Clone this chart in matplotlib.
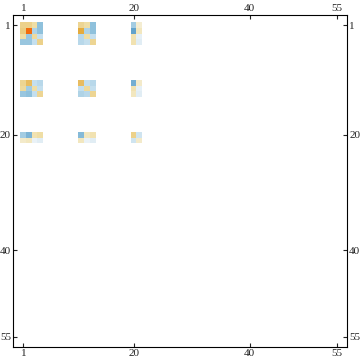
import matplotlib
matplotlib.use('Agg')
import matplotlib.pyplot as plt
import numpy as np
from matplotlib.colors import LinearSegmentedColormap

n = 55
# rows/cols that carry nonzero entries
idx = [1, 2, 3, 4, 11, 12, 13, 20, 21]
# values (blue = negative, orange = positive)
vals = [
    [0.45, 0.45, 0.30, -0.50, 0.40, 0.30, -0.50, -0.40, 0.12],
    [0.50, 1.00, -0.35, -0.50, 0.70, -0.35, -0.50, -0.75, 0.20],
    [0.30, -0.45, 0.35, -0.25, -0.30, 0.30, -0.25, 0.25, -0.10],
    [-0.45, -0.45, -0.25, 0.45, -0.30, -0.25, 0.40, 0.25, -0.12],
    [0.40, 0.60, -0.25, -0.30, 0.60, -0.25, -0.30, -0.65, 0.15],
    [0.35, -0.40, 0.30, -0.25, -0.25, 0.35, -0.25, 0.25, -0.10],
    [-0.45, -0.50, -0.25, 0.40, -0.35, -0.30, 0.40, 0.20, -0.12],
    [-0.40, -0.60, 0.25, 0.30, -0.55, 0.20, 0.25, 0.45, -0.20],
    [0.15, 0.20, -0.08, -0.12, 0.20, -0.08, -0.12, -0.20, 0.15],
]
ticks = [1, 20, 40, 55]

M = np.zeros((n, n))
for i, r in enumerate(idx):
    for j, c in enumerate(idx):
        M[r - 1, c - 1] = vals[i][j]
M = np.ma.masked_equal(M, 0)  # zero entries stay white

cmap = LinearSegmentedColormap.from_list('mma', [
    (0.0, '#4f93c2'),
    (0.125, '#62a3cc'),
    (0.25, '#8fc1dc'),
    (0.375, '#c4dfee'),
    (0.45, '#e6f0f6'),
    (0.5, '#ffffff'),
    (0.55, '#f5efd8'),
    (0.65, '#f0dfa6'),
    (0.75, '#ebcd82'),
    (0.85, '#e5ac3e'),
    (1.0, '#f26c0d'),
])
cmap.set_bad('white')

fig = plt.figure(figsize=(3.6, 3.63), dpi=100)
ax = fig.add_axes([13 / 360, (363 - 347) / 363, 334 / 360, 332 / 363])
ax.imshow(M, cmap=cmap, vmin=-1, vmax=1, interpolation='nearest',
          extent=(0.5, n + 0.5, n + 0.5, 0.5), aspect='auto')

pad = 1.28
ax.set_xlim(0.5 - pad, n + 0.5 + pad)
ax.set_ylim(n + 0.5 + pad, 0.5 - pad)

ax.set_xticks(ticks)
ax.set_yticks(ticks)
ax.set_xticklabels([str(t) for t in ticks], family='Liberation Serif', fontsize=8)
ax.set_yticklabels([str(t) for t in ticks], family='Liberation Serif', fontsize=8)
ax.tick_params(direction='in', length=3, width=0.8, top=True, right=True,
               labeltop=True, labelright=True, pad=1.5, colors='#222222')
for s in ax.spines.values():
    s.set_linewidth(0.8)

fig.savefig('out.png', dpi=100)
